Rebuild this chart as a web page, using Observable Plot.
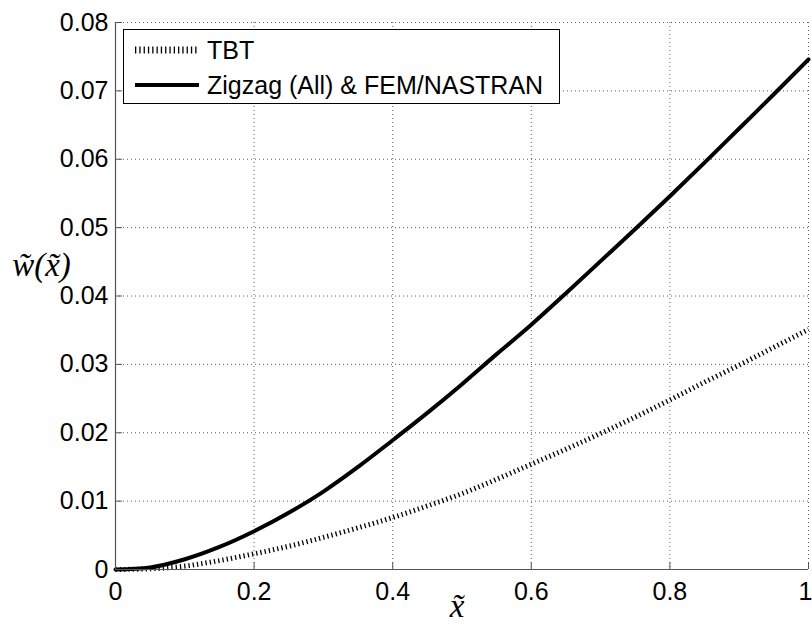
<!DOCTYPE html>
<html>
<head>
<meta charset="utf-8">
<script src="https://cdn.jsdelivr.net/npm/d3@7"></script>
<script src="https://cdn.jsdelivr.net/npm/@observablehq/plot@0.6"></script>
<style>
  html, body { margin: 0; padding: 0; background: #fff; }
  #wrap { position: relative; width: 812px; height: 631px; }
  #legend { position: absolute; left: 0; top: 0; pointer-events: none; }
</style>
</head>
<body>
<div id="wrap"></div>
<script>
// ---- data ----
const xTicks = [0, 0.2, 0.4, 0.6, 0.8, 1];
const yTicks = [0, 0.01, 0.02, 0.03, 0.04, 0.05, 0.06, 0.07, 0.08];
const xs     = [0, 0.05, 0.1, 0.15, 0.2, 0.25, 0.3, 0.35, 0.4, 0.45, 0.5, 0.55, 0.6, 0.65, 0.7, 0.75, 0.8, 0.85, 0.9, 0.95, 1];
const tbt    = [0, 0.0001, 0.0005, 0.0013, 0.0023, 0.0034, 0.0047, 0.0061, 0.0076, 0.0093, 0.0111, 0.0132, 0.0154, 0.0176, 0.0199, 0.0223, 0.0248, 0.0274, 0.0299, 0.0325, 0.0351];
const zigzag = [0, 0.0003, 0.0015, 0.0033, 0.0056, 0.0083, 0.0114, 0.0150, 0.0189, 0.0229, 0.0271, 0.0315, 0.0358, 0.0404, 0.0451, 0.0498, 0.0546, 0.0595, 0.0645, 0.0695, 0.0746];
const seriesNames = ["TBT", "Zigzag (All) & FEM/NASTRAN"];
const xLabel = "x\u0303";
const yLabel = "w\u0303(x\u0303)";

const rows = xs.map((x, i) => ({x, tbt: tbt[i], zig: zigzag[i]}));

const axisColor = "#555";
const gridStyle = {stroke: "#444", strokeOpacity: 0.85, strokeDasharray: "1,3", strokeWidth: 1};
const serif = "'Liberation Serif', 'DejaVu Serif', serif";

const chart = Plot.plot({
  width: 812,
  height: 631,
  marginLeft: 115,
  marginRight: 4,
  marginTop: 22,
  marginBottom: 62,
  x: {domain: [0, 1]},
  y: {domain: [0, 0.08]},
  style: {fontFamily: "'Liberation Sans', Arial, sans-serif", fontSize: "25px", color: "#000", background: "#fff"},
  marks: [
    Plot.gridX(xTicks, gridStyle),
    Plot.gridY(yTicks, gridStyle),
    Plot.line(rows, {x: "x", y: "tbt", curve: "monotone-x", stroke: "#000", strokeWidth: 5, strokeDasharray: "1.3,3", strokeLinecap: "butt"}),
    Plot.line(rows, {x: "x", y: "zig", curve: "monotone-x", stroke: "#000", strokeWidth: 4}),
    Plot.ruleX([0], {stroke: axisColor, strokeWidth: 1.2}),
    Plot.ruleY([0], {stroke: axisColor, strokeWidth: 1.2}),
    Plot.axisX(xTicks, {tickSize: 7, dy: -7, tickFormat: () => "", label: null, stroke: axisColor}),
    Plot.axisX(xTicks.slice(0, -1), {tickSize: 0, tickPadding: 13, label: null, tickFormat: d => String(d)}),
    Plot.axisX(xTicks.slice(-1), {tickSize: 0, tickPadding: 13, label: null, dx: -3, tickFormat: d => String(d)}),
    Plot.axisY(yTicks, {tickSize: 7, dx: 7, tickFormat: () => "", label: null, stroke: axisColor}),
    Plot.axisY(yTicks, {tickSize: 0, tickPadding: 7, label: null, tickFormat: d => String(d)}),
    Plot.text([yLabel], {frameAnchor: "left", textAnchor: "middle", lineAnchor: "middle", dx: -74, dy: -31, fontSize: 33, fontFamily: serif, fontStyle: "italic", fill: "#000"}),
    Plot.text([xLabel], {frameAnchor: "bottom", textAnchor: "middle", lineAnchor: "middle", dx: -5, dy: 37, fontSize: 33, fontFamily: serif, fontStyle: "italic", fill: "#000"})
  ]
});

const wrap = document.getElementById("wrap");
wrap.appendChild(chart);

// ---- legend (inside the plot area, top-left) ----
const ns = "http://www.w3.org/2000/svg";
const leg = document.createElementNS(ns, "svg");
leg.setAttribute("id", "legend");
leg.setAttribute("width", 812);
leg.setAttribute("height", 631);
const g = d3.select(leg);
g.append("rect").attr("x", 123.5).attr("y", 29.5).attr("width", 436).attr("height", 74)
  .attr("fill", "#fff").attr("stroke", "#000").attr("stroke-width", 1);
const entries = [
  {name: seriesNames[0], cy: 50, dash: "1.3,3", w: 7},
  {name: seriesNames[1], cy: 85, dash: null, w: 4}
];
entries.forEach(e => {
  const ln = g.append("line").attr("x1", 135).attr("x2", 199).attr("y1", e.cy).attr("y2", e.cy)
    .attr("stroke", "#000").attr("stroke-width", e.w);
  if (e.dash) ln.attr("stroke-dasharray", e.dash);
  g.append("text").attr("x", 207).attr("y", e.cy + 8.5)
    .attr("font-family", "'Liberation Sans', Arial, sans-serif").attr("font-size", 25)
    .attr("fill", "#000").text(e.name);
});
wrap.appendChild(leg);
</script>
</body>
</html>
